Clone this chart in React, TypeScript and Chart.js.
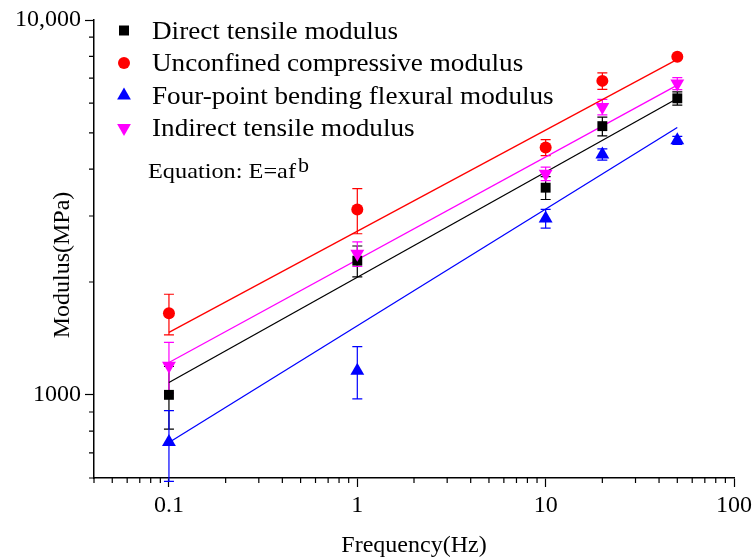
import React, { useEffect, useRef } from 'react';
import { Chart, registerables } from 'chart.js';
Chart.register(...registerables);

const FONT = "'Liberation Serif', 'Times New Roman', serif";

const frequencies = [0.1, 1, 10, 20, 50];
const directTensile = [1000, 2280, 3570, 5210, 6180];
const directTensileErr = [190, 215, 250, 300, 250];
const unconfinedCompressive = [1650, 3120, 4570, 6880, 7980];
const unconfinedCompressiveErr = [205, 430, 225, 350, 80];
const fourPointBending = [748, 1160, 2955, 4380, 4775];
const fourPointBendingErr = [160, 185, 170, 150, 120];
const indirectTensile = [1195, 2380, 3890, 5860, 6770];
const indirectTensileErr = [185, 180, 160, 280, 250];

const fitFrequencies = [0.1, 50];
const directFit = [1079, 6175];
const unconfinedFit = [1468, 7850];
const fourPointFit = [746, 5166];
const indirectFit = [1220, 6702];

const xTickValues = [0.04, 0.05, 0.06, 0.07, 0.08, 0.09, 0.1, 0.2, 0.3, 0.4, 0.5, 0.6, 0.7, 0.8, 0.9, 1, 2, 3, 4, 5, 6, 7, 8, 9, 10, 20, 30, 40, 50, 60, 70, 80, 90, 100];
const xTickLabels: Record<string, string> = { '0.1': '0.1', '1': '1', '10': '10', '100': '100' };
const yTickValues = [600, 700, 800, 900, 1000, 2000, 3000, 4000, 5000, 6000, 7000, 8000, 9000, 10000];
const yTickLabels: Record<string, string> = { '1000': '1000', '10000': '10,000' };

const seriesNames = ['Direct tensile modulus', 'Unconfined compressive modulus', 'Four-point bending flexural modulus', 'Indirect tensile modulus'];
const seriesColors = ['#000000', '#ff0000', '#0000ff', '#ff00ff'];

function drawMarker(ctx: CanvasRenderingContext2D, kind: string, x: number, y: number, color: string) {
  ctx.save();
  ctx.fillStyle = color;
  ctx.beginPath();
  if (kind === 'rect') {
    ctx.rect(x - 5, y - 5, 10, 10);
  } else if (kind === 'circle') {
    ctx.arc(x, y, 6, 0, Math.PI * 2);
  } else if (kind === 'tri') {
    ctx.moveTo(x, y - 8);
    ctx.lineTo(x + 6.9, y + 4);
    ctx.lineTo(x - 6.9, y + 4);
    ctx.closePath();
  } else {
    ctx.moveTo(x, y + 8);
    ctx.lineTo(x + 6.9, y - 4);
    ctx.lineTo(x - 6.9, y - 4);
    ctx.closePath();
  }
  ctx.fill();
  ctx.restore();
}

function fillStretched(ctx: CanvasRenderingContext2D, text: string, x: number, y: number, sx: number) {
  ctx.save();
  ctx.translate(x, y);
  ctx.scale(sx, 1);
  ctx.fillText(text, 0, 0);
  ctx.restore();
}

const customPlugin = {
  id: 'customDecor',
  beforeDatasetsDraw(chart: any) {
    const ctx: CanvasRenderingContext2D = chart.ctx;
    const xs = chart.scales.x;
    const ys = chart.scales.y;
    const sets = [
      [directTensile, directTensileErr],
      [unconfinedCompressive, unconfinedCompressiveErr],
      [fourPointBending, fourPointBendingErr],
      [indirectTensile, indirectTensileErr],
    ];
    ctx.save();
    ctx.lineWidth = 1.2;
    sets.forEach((s, si) => {
      ctx.strokeStyle = seriesColors[si];
      const vals = s[0];
      const errs = s[1];
      frequencies.forEach((f, i) => {
        const x = xs.getPixelForValue(f);
        const yt = ys.getPixelForValue(vals[i] + errs[i]);
        const yb = ys.getPixelForValue(Math.max(vals[i] - errs[i], 1));
        ctx.beginPath();
        ctx.moveTo(x, yt);
        ctx.lineTo(x, yb);
        ctx.moveTo(x - 5, yt);
        ctx.lineTo(x + 5, yt);
        ctx.moveTo(x - 5, yb);
        ctx.lineTo(x + 5, yb);
        ctx.stroke();
      });
    });
    ctx.restore();
  },
  afterDraw(chart: any) {
    const ctx: CanvasRenderingContext2D = chart.ctx;
    const xs = chart.scales.x;
    const ys = chart.scales.y;
    const area = chart.chartArea;
    ctx.save();
    // minor ticks
    ctx.strokeStyle = '#000';
    ctx.lineWidth = 1.2;
    ctx.beginPath();
    xTickValues.forEach((v) => {
      if (xTickLabels[String(v)]) return;
      const x = xs.getPixelForValue(v);
      ctx.moveTo(x, area.bottom);
      ctx.lineTo(x, area.bottom + 5);
    });
    yTickValues.forEach((v) => {
      if (yTickLabels[String(v)]) return;
      const y = ys.getPixelForValue(v);
      ctx.moveTo(area.left, y);
      ctx.lineTo(area.left - 5, y);
    });
    ctx.stroke();

    // legend
    const kinds = ['rect', 'circle', 'tri', 'itri'];
    const markerY = [30.5, 63, 95.5, 128];
    const baseY = [39, 71, 103.5, 135.5];
    ctx.font = `25px ${FONT}`;
    ctx.textAlign = 'left';
    ctx.textBaseline = 'alphabetic';
    const legendScale = 246 / ctx.measureText(seriesNames[0]).width;
    seriesNames.forEach((name, i) => {
      drawMarker(ctx, kinds[i], 124, markerY[i], seriesColors[i]);
      ctx.fillStyle = '#000';
      fillStretched(ctx, name, 152, baseY[i], legendScale);
    });

    // equation
    ctx.font = `22px ${FONT}`;
    ctx.fillStyle = '#000';
    const eq = 'Equation: E=af';
    const eqScale = 148 / ctx.measureText(eq).width;
    fillStretched(ctx, eq, 148, 178, eqScale);
    ctx.font = `20px ${FONT}`;
    fillStretched(ctx, 'b', 298, 171.5, eqScale);

    // axis titles
    ctx.font = `24px ${FONT}`;
    ctx.textAlign = 'center';
    ctx.fillText('Frequency(Hz)', (area.left + area.right) / 2, 552);
    ctx.translate(69, 265);
    ctx.rotate(-Math.PI / 2);
    ctx.fillText('Modulus(MPa)', 0, 0);
    ctx.restore();
  },
};

export default function App() {
  const ref = useRef<HTMLCanvasElement | null>(null);
  useEffect(() => {
    document.body.style.margin = '0';
    const canvas = ref.current;
    if (!canvas) return;
    const scatter = (label: string, data: number[], color: string, style: any, radius: number, rotation: number, order: number) => ({
      type: 'scatter' as const,
      label,
      data: frequencies.map((f, i) => ({ x: f, y: data[i] })),
      backgroundColor: color,
      borderColor: color,
      borderWidth: 0,
      pointStyle: style,
      pointRadius: radius,
      pointRotation: rotation,
      showLine: false,
      order,
    });
    const fit = (data: number[], color: string) => ({
      type: 'line' as const,
      label: 'fit',
      data: fitFrequencies.map((f, i) => ({ x: f, y: data[i] })),
      borderColor: color,
      borderWidth: 1.3,
      pointRadius: 0,
      fill: false,
      order: 10,
    });
    const chart = new Chart(canvas, {
      type: 'scatter',
      data: {
        datasets: [
          fit(directFit, seriesColors[0]),
          fit(unconfinedFit, seriesColors[1]),
          fit(fourPointFit, seriesColors[2]),
          fit(indirectFit, seriesColors[3]),
          scatter(seriesNames[0], directTensile, seriesColors[0], 'rect', 7, 0, 2),
          scatter(seriesNames[1], unconfinedCompressive, seriesColors[1], 'circle', 6, 0, 3),
          scatter(seriesNames[2], fourPointBending, seriesColors[2], 'triangle', 8, 0, 4),
          scatter(seriesNames[3], indirectTensile, seriesColors[3], 'triangle', 8, 180, 1),
        ] as any,
      },
      options: {
        animation: false,
        responsive: false,
        maintainAspectRatio: false,
        layout: { padding: { top: 20, right: 19, left: 0, bottom: 0 } },
        plugins: { legend: { display: false }, tooltip: { enabled: false }, title: { display: false } },
        scales: {
          x: {
            type: 'logarithmic',
            min: 0.04,
            max: 100,
            afterFit: (s: any) => { s.height = 80; },
            afterBuildTicks: (s: any) => { s.ticks = xTickValues.map((v) => ({ value: v })); },
            border: { display: true, color: '#000', width: 1.5 },
            grid: {
              display: true,
              drawOnChartArea: false,
              drawTicks: true,
              tickLength: 9,
              tickWidth: 1.2,
              tickColor: (c: any) => (c.tick && xTickLabels[String(c.tick.value)] ? '#000' : 'rgba(0,0,0,0)'),
            },
            ticks: {
              autoSkip: false,
              maxRotation: 0,
              padding: 4,
              color: '#000',
              font: { family: FONT, size: 24 },
              callback: (v: any) => xTickLabels[String(v)] || '',
            },
          },
          y: {
            type: 'logarithmic',
            min: 600,
            max: 10000,
            afterFit: (s: any) => { s.width = 94; },
            afterBuildTicks: (s: any) => { s.ticks = yTickValues.map((v) => ({ value: v })); },
            border: { display: true, color: '#000', width: 1.5 },
            grid: {
              display: true,
              drawOnChartArea: false,
              drawTicks: true,
              tickLength: 9,
              tickWidth: 1.2,
              tickColor: (c: any) => (c.tick && yTickLabels[String(c.tick.value)] ? '#000' : 'rgba(0,0,0,0)'),
            },
            ticks: {
              autoSkip: false,
              padding: 4,
              color: '#000',
              font: { family: FONT, size: 24 },
              callback: (v: any) => yTickLabels[String(v)] || '',
            },
          },
        },
      } as any,
      plugins: [customPlugin],
    });
    return () => chart.destroy();
  }, []);
  return (
    <div style={{ width: 756, height: 558, background: '#fff' }}>
      <canvas ref={ref} width={756} height={558} style={{ display: 'block' }} />
    </div>
  );
}
